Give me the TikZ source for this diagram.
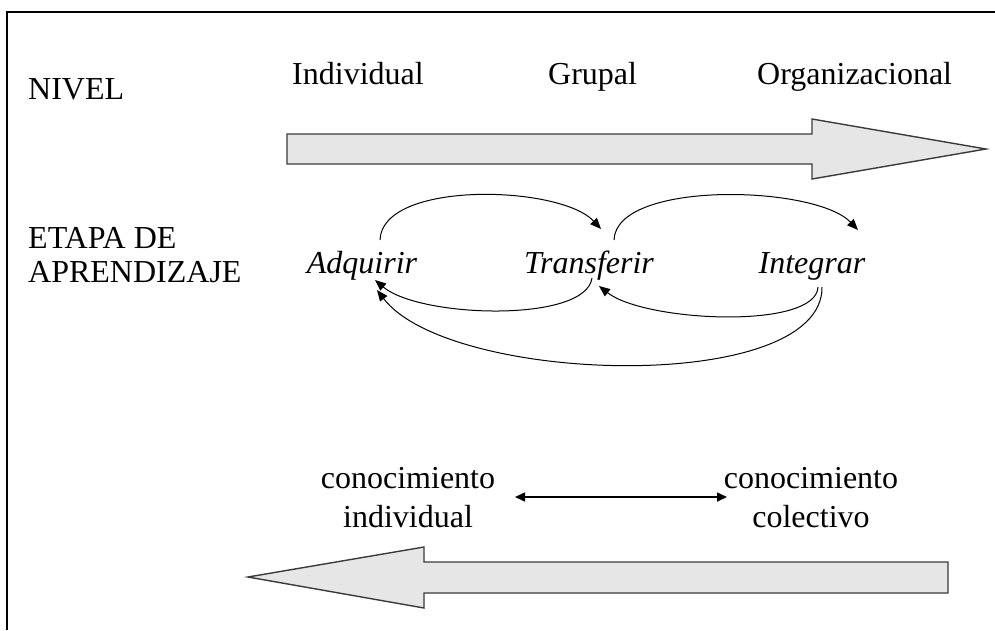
\documentclass[tikz,border=0pt]{standalone}
\usepackage{fontspec}
\setmainfont{Liberation Serif}
\usetikzlibrary{arrows.meta}
\definecolor{arrowfill}{HTML}{E6E6E6}
\definecolor{arrowline}{HTML}{3A3A3A}
\begin{document}
\begin{tikzpicture}[x=1pt,y=-1pt,
  lbl/.style={font=\fontsize{32}{36}\selectfont, inner sep=0pt, anchor=base west},
  word/.style={lbl, anchor=base, font=\fontsize{32}{36}\selectfont\itshape},
  bigarrow/.style={fill=arrowfill, draw=arrowline, line width=1.4pt, line join=miter},
  loop/.style={line width=1pt, -{Triangle[length=11pt,width=9pt]}},
  link/.style={line width=1.6pt, {Triangle[length=10pt,width=9pt]}-{Triangle[length=10pt,width=9pt]}}]
\useasboundingbox (0,0) rectangle (995,630);

% frame on the left and top
\draw[line width=2.5pt] (7,630) -- (7,12) -- (995,12);

% row labels
\node[lbl] (nivel) at (28,99) {NIVEL};
\node[lbl] (etapa) at (28,248) {ETAPA DE};
\node[lbl] (aprend) at (28,282) {APRENDIZAJE};

% levels
\node[lbl] (indiv) at (292,84) {Individual};
\node[lbl] (grupal) at (548,84) {Grupal};
\node[lbl] (organiz) at (757,84) {Organizacional};

% level arrow
\draw[bigarrow] (287,134) -- (812,134) -- (812,119) -- (986,149) -- (812,179) -- (812,164) -- (287,164) -- cycle;

% learning stages
\node[word] (adq) at (362,273) {Adquirir};
\node[word] (tra) at (589,273) {Transferir};
\node[word] (integ) at (812,273) {Integrar};

\coordinate (a1s) at (380,240);
\coordinate (a1e) at (601,229);
\coordinate (a2s) at (614,240);
\coordinate (a2e) at (858,230);
\coordinate (b1s) at (592,278);
\coordinate (b1e) at (375,280);
\coordinate (b2s) at (818,287);
\coordinate (b2e) at (599,286);
\coordinate (b3s) at (822,287);
\coordinate (b3e) at (377,290);

\draw[loop] (a1s) .. controls (382,180) and (560,185) .. (a1e);
\draw[loop] (a2s) .. controls (616,180) and (815,185) .. (a2e);
\draw[loop] (b1s) .. controls (586,323) and (420,318) .. (b1e);
\draw[loop] (b2s) .. controls (816,330) and (645,322) .. (b2e);
\draw[loop] (b3s) .. controls (823,395) and (450,385) .. (b3e);

% knowledge
\node[lbl, anchor=base] (ci1) at (408,488) {conocimiento};
\node[lbl, anchor=base] (ci2) at (408,527) {individual};
\node[lbl, anchor=base] (cc1) at (811,488) {conocimiento};
\node[lbl, anchor=base] (cc2) at (811,527) {colectivo};

\coordinate (kl) at (515,497);
\coordinate (kr) at (727,497);
\draw[link] (kl) -- (kr);

% knowledge arrow
\draw[bigarrow] (948,562) -- (424,562) -- (424,547) -- (248,577) -- (424,608) -- (424,593) -- (948,593) -- cycle;
\end{tikzpicture}
\end{document}
